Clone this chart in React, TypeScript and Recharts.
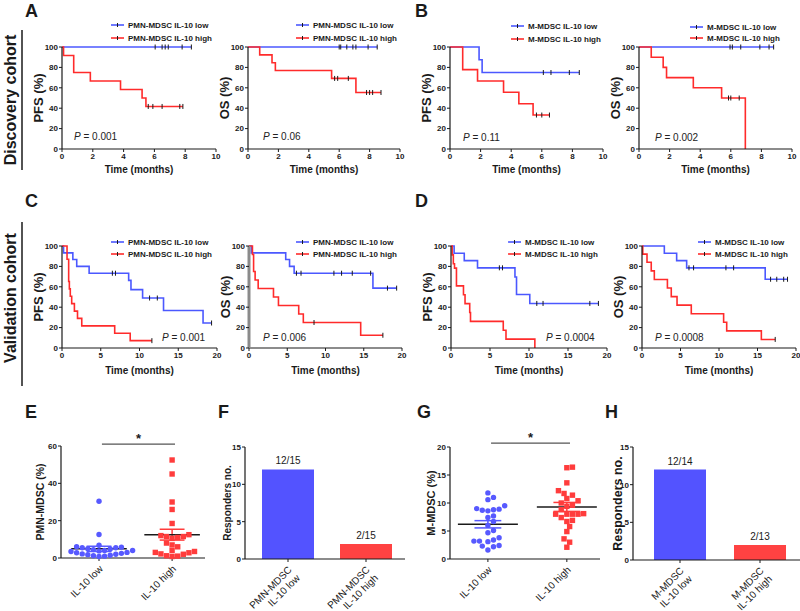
import React from 'react';
import {
  LineChart, Line, XAxis, YAxis, ScatterChart, Scatter, BarChart, Bar, Cell,
  LabelList, ReferenceLine,
} from 'recharts';

const FONT = '"Liberation Sans", Arial, Helvetica, sans-serif';
const INK = '#1a1a1a';
const BLUE = '#4b58ff';
const RED = '#ff2b2b';
const DOT_BLUE = '#5759ff';
const SQ_RED = '#ff3c3c';
const BAR_BLUE = '#5353ff';
const BAR_RED = '#ff4242';

// Kaplan-Meier curves: [months, survival %, censored 1 / event 0]
type KmRow = [number, number, number];

const aPfsLow: KmRow[] = [[0, 100, 0], [6.05, 100, 1], [6.5, 100, 1], [6.7, 100, 1], [6.9, 100, 1], [7.8, 100, 1], [8.4, 100, 1]];
const aPfsHigh: KmRow[] = [[0, 100, 0], [0.1, 91.7, 0], [0.76, 75, 0], [1.84, 66.7, 0], [3.8, 58.3, 0], [5.2, 50, 0], [5.45, 41.7, 0], [5.6, 41.7, 1], [5.9, 41.7, 1], [6.5, 41.7, 1], [7.65, 41.7, 1], [7.85, 41.7, 1]];
const aOsLow: KmRow[] = [[0, 100, 0], [6.0, 100, 1], [6.1, 100, 1], [6.5, 100, 1], [6.9, 100, 1], [7.1, 100, 1], [7.9, 100, 1], [8.5, 100, 1]];
const aOsHigh: KmRow[] = [[0, 100, 0], [0.77, 92.3, 0], [1.58, 84.6, 0], [1.8, 76.9, 0], [5.5, 69.2, 0], [5.7, 69.2, 1], [5.9, 69.2, 1], [6.6, 69.2, 1], [7.1, 55.4, 0], [7.8, 55.4, 1], [8.0, 55.4, 1], [8.2, 55.4, 1], [8.75, 55.4, 1]];

const bPfsLow: KmRow[] = [[0, 100, 0], [1.9, 87.5, 0], [2.1, 75, 0], [6.1, 75, 1], [6.6, 75, 1], [7.8, 75, 1], [8.45, 75, 1]];
const bPfsHigh: KmRow[] = [[0, 100, 0], [0.83, 77.8, 0], [1.8, 66.7, 0], [3.5, 55.6, 0], [4.5, 44.4, 0], [5.43, 33.3, 0], [5.65, 33.3, 1], [6.0, 33.3, 1], [6.5, 33.3, 1]];
const bOsLow: KmRow[] = [[0, 100, 0], [5.95, 100, 1], [6.1, 100, 1], [6.65, 100, 1], [7.9, 100, 1], [8.5, 100, 1], [8.8, 100, 1]];
const bOsHigh: KmRow[] = [[0, 100, 0], [0.8, 90, 0], [1.58, 80, 0], [1.8, 70, 0], [3.55, 60, 0], [5.4, 50, 0], [5.85, 50, 1], [6.0, 50, 1], [6.55, 50, 1], [6.95, 0, 0]];

const cPfsLow: KmRow[] = [[0, 100, 0], [0.2, 93.3, 0], [1.4, 86.7, 0], [1.9, 80, 0], [3.5, 73.3, 0], [6.5, 73.3, 1], [6.9, 73.3, 1], [8.6, 66.3, 0], [8.9, 57.2, 0], [10.4, 49, 0], [11.3, 49, 1], [12.3, 49, 1], [13.1, 36.8, 0], [18.2, 24.5, 0], [19.3, 24.5, 1]];
const cPfsHigh: KmRow[] = [[0, 100, 0], [0.65, 87, 0], [0.86, 65.2, 0], [0.95, 58, 0], [1.07, 50.7, 0], [1.25, 43.5, 0], [1.6, 36.2, 0], [2.0, 29, 0], [2.55, 21.7, 0], [6.8, 14.5, 0], [8.8, 7.2, 0], [11.6, 7.2, 1]];
const cOsLow: KmRow[] = [[0, 100, 0], [0.3, 93.3, 0], [4.8, 86.7, 0], [5.3, 80, 0], [5.9, 73.3, 0], [6.2, 73.3, 1], [6.8, 73.3, 1], [11.1, 73.3, 1], [12.1, 73.3, 1], [13.5, 73.3, 1], [15.9, 73.3, 1], [16.2, 58.7, 0], [18.1, 58.7, 1], [19.3, 58.7, 1]];
const cOsHigh: KmRow[] = [[0, 100, 0], [0.45, 91.7, 0], [0.6, 75, 0], [0.8, 66.7, 0], [1.2, 58.3, 0], [3.2, 50, 0], [3.85, 41.7, 0], [6.5, 33.3, 0], [7.1, 25, 0], [8.5, 25, 1], [14.6, 12.5, 0], [17.5, 12.5, 1]];

const dPfsLow: KmRow[] = [[0, 100, 0], [0.4, 92.9, 0], [1.7, 85.7, 0], [3.4, 78.6, 0], [6.2, 78.6, 1], [6.6, 78.6, 1], [8.2, 69.6, 0], [8.4, 52.4, 0], [10.1, 43.7, 0], [11.0, 43.7, 1], [11.8, 43.7, 1], [17.8, 43.7, 1], [18.9, 43.7, 1]];
const dPfsHigh: KmRow[] = [[0, 100, 0], [0.15, 91.3, 0], [0.3, 82.6, 0], [0.45, 78.3, 0], [0.7, 60.9, 0], [1.6, 52.2, 0], [1.8, 43.5, 0], [2.4, 34.8, 0], [2.5, 26.1, 0], [6.7, 17.4, 0], [7.05, 8.7, 0], [10.75, 0, 0]];
const dOsLow: KmRow[] = [[0, 100, 0], [2.9, 92.9, 0], [4.5, 85.7, 0], [5.8, 78.6, 0], [6.1, 78.6, 1], [6.7, 78.6, 1], [10.9, 78.6, 1], [11.9, 78.6, 1], [16.0, 67.4, 0], [16.7, 67.4, 1], [17.5, 67.4, 1], [18.4, 67.4, 1], [18.9, 67.4, 1]];
const dOsHigh: KmRow[] = [[0, 100, 0], [0.1, 92, 0], [0.65, 84, 0], [1.2, 75.6, 0], [1.6, 67.2, 0], [3.3, 58.8, 0], [3.8, 50.4, 0], [4.55, 42, 0], [6.4, 33.6, 0], [10.6, 25.2, 0], [11.0, 16.8, 0], [15.5, 8.4, 0], [17.3, 8.4, 1]];

const pValues = ['0.001', '0.06', '0.11', '0.002', '0.001', '0.006', '0.0004', '0.0008'];
const pmnNames = ['PMN-MDSC IL-10 low', 'PMN-MDSC IL-10 high'];
const mNames = ['M-MDSC IL-10 low', 'M-MDSC IL-10 high'];
const ticks10 = [0, 2, 4, 6, 8, 10];
const ticks20 = [0, 5, 10, 15, 20];
const pctTicks = [0, 20, 40, 60, 80, 100];

// E / G: individual values, mean and SEM
const groupNames = ['IL-10 low', 'IL-10 high'];
const eLow = [30.4, 12.6, 6.8, 6.0, 5.8, 5.5, 5.5, 5.0, 4.8, 4.5, 4.0, 4.0, 3.8, 3.5, 3.0, 2.8, 2.5, 2.2, 2.0, 1.8, 1.5, 1.2, 1.0, 0.8];
const eHigh = [52.5, 45.0, 30.0, 26.0, 18.5, 12.5, 12.0, 11.5, 11.5, 11.0, 10.5, 8.0, 7.0, 6.0, 4.0, 3.5, 3.0, 2.8, 2.2, 2.0, 1.2, 1.0, 0.8];
const eMean = [4.9, 12.5];
const eSem = [1.4, 2.9];
const gLow = [11.8, 11.0, 10.6, 9.5, 9.0, 8.9, 8.8, 8.7, 8.6, 7.7, 7.4, 6.7, 6.0, 5.1, 4.7, 3.8, 3.4, 3.2, 3.2, 3.1, 2.4, 2.3, 2.2, 1.6];
const gHigh = [16.4, 16.3, 13.6, 12.2, 11.7, 11.4, 10.8, 10.4, 10.0, 9.6, 9.4, 8.8, 8.1, 8.0, 8.0, 8.0, 8.0, 7.4, 6.9, 6.7, 5.8, 4.9, 3.6, 3.0, 2.1];
const gMean = [6.2, 9.3];
const gSem = [0.65, 0.8];

// F / H: responders
const fNames = ['PMN-MDSC\nIL-10 low', 'PMN-MDSC\nIL-10 high'];
const fCounts = [12, 2];
const fTexts = ['12/15', '2/15'];
const hNames = ['M-MDSC\nIL-10 low', 'M-MDSC\nIL-10 high'];
const hCounts = [12, 2];
const hTexts = ['12/14', '2/13'];

const tickStyle = { fontSize: 8, fontWeight: 700, fill: INK, fontFamily: FONT };
const axisLine = { stroke: INK, strokeWidth: 1.2 };

const toKm = (rows: KmRow[]) => rows.map(([t, s, c]) => ({ t, s, c }));

const censorDot = (p: any) => {
  const { cx, cy, payload, index } = p;
  if (!payload || !payload.c) return <g key={`n${index}`} />;
  return <line key={`c${index}`} x1={cx} x2={cx} y1={cy - 2.5} y2={cy + 2.5} stroke={INK} strokeWidth={1} />;
};

function KmPanel({ box, xMax, xTicks, yLabel, low, high, xh, grayAxis }: any) {
  const yw = 48, mt = 6, mr = 6;
  const w = box.x1 - box.x0 + yw + mr;
  const h = box.y1 - box.y0 + mt + xh;
  return (
    <div style={{ position: 'absolute', left: box.x0 - yw, top: box.y0 - mt }}>
      <LineChart width={w} height={h} margin={{ top: mt, right: mr, bottom: 0, left: 0 }}>
        <XAxis dataKey="t" type="number" domain={[0, xMax]} ticks={xTicks} height={xh} tickSize={3} tickMargin={1}
          stroke={INK} axisLine={axisLine} tick={tickStyle}
          label={{ value: 'Time (months)', position: 'center', fontSize: 10, fontWeight: 700, fill: INK, fontFamily: FONT }} />
        <YAxis type="number" domain={[0, 100]} ticks={pctTicks} width={yw} tickSize={3} tickMargin={1}
          stroke={INK} axisLine={grayAxis ? { stroke: '#8a8a8a', strokeWidth: 3 } : axisLine} tick={tickStyle}
          label={{ value: yLabel, angle: -90, position: 'center', fontSize: 13, fontWeight: 700, fill: INK, fontFamily: FONT }} />
        <Line data={toKm(low)} dataKey="s" type="stepAfter" stroke={BLUE} strokeWidth={1.6} dot={censorDot} activeDot={false} isAnimationActive={false} />
        <Line data={toKm(high)} dataKey="s" type="stepAfter" stroke={RED} strokeWidth={1.6} dot={censorDot} activeDot={false} isAnimationActive={false} />
      </LineChart>
    </div>
  );
}

// simple beeswarm: spread tied values sideways so markers do not overlap
function swarm(vals: number[], center: number, xPx: number, yPx: number, d: number) {
  const placed: { px: number; py: number }[] = [];
  return [...vals].sort((a, b) => a - b).map((v) => {
    const py = v * yPx;
    let best = 0;
    for (let k = 0; k < 80; k++) {
      const off = (k % 2 ? 1 : -1) * Math.ceil(k / 2) * (d / 2);
      if (placed.every((p) => (p.px - off) ** 2 + (p.py - py) ** 2 >= d * d)) { best = off; break; }
    }
    placed.push({ px: best, py });
    return { x: center + best / xPx, y: v };
  });
}

const rotTick = (names: string[], size: number, dx: number, dyPx: number) => (p: any) => {
  const raw = typeof p.payload.value === 'number' ? names[p.payload.value] : p.payload.value;
  const lines = String(raw).split('\n');
  return (
    <g transform={`translate(${p.x + dx},${p.y + dyPx})`}>
      <text transform="rotate(-45)" textAnchor="end" fontFamily={FONT} fontSize={size} fill={INK}>
        {lines.map((l, i) => <tspan key={i} x={0} dy={i === 0 ? '0.35em' : '1.15em'}>{l}</tspan>)}
      </text>
    </g>
  );
};

function DotPanel({ box, yMax, yTicks, yLabel, yw, labelSize, lowVals, highVals, mean, sem, xDomain, bracket }: any) {
  const mt = 26, mr = 4, xh = 55;
  const w = box.x1 - box.x0 + yw + mr;
  const h = box.y1 - box.y0 + mt + xh;
  const xPx = (box.x1 - box.x0) / (xDomain[1] - xDomain[0]);
  const yPx = (box.y1 - box.y0) / yMax;
  const lowPts = swarm(lowVals, 0, xPx, yPx, 5.6);
  const highPts = swarm(highVals, 1, xPx, yPx, 5.6);
  const bars: any[] = [];
  [0, 1].forEach((i) => {
    const col = i === 0 ? DOT_BLUE : SQ_RED;
    const m = mean[i], s = sem[i];
    bars.push(<ReferenceLine key={`v${i}`} segment={[{ x: i, y: m - s }, { x: i, y: m + s }]} stroke={col} strokeWidth={1.5} ifOverflow="visible" />);
    bars.push(<ReferenceLine key={`u${i}`} segment={[{ x: i - 0.17, y: m + s }, { x: i + 0.17, y: m + s }]} stroke={col} strokeWidth={1.5} ifOverflow="visible" />);
    bars.push(<ReferenceLine key={`l${i}`} segment={[{ x: i - 0.17, y: m - s }, { x: i + 0.17, y: m - s }]} stroke={col} strokeWidth={1.5} ifOverflow="visible" />);
    bars.push(<ReferenceLine key={`m${i}`} segment={[{ x: i - 0.38, y: m }, { x: i + 0.38, y: m }]} stroke={INK} strokeWidth={1.5} ifOverflow="visible" />);
  });
  return (
    <div style={{ position: 'absolute', left: box.x0 - yw, top: box.y0 - mt }}>
      <ScatterChart width={w} height={h} margin={{ top: mt, right: mr, bottom: 0, left: 0 }}>
        <XAxis dataKey="x" type="number" domain={xDomain} ticks={[0, 1]} height={xh} tickSize={3} tickMargin={2}
          stroke={INK} axisLine={axisLine} allowDataOverflow tick={rotTick(groupNames, 10, 2, 4)} />
        <YAxis dataKey="y" type="number" domain={[0, yMax]} ticks={yTicks} width={yw} tickSize={3} tickMargin={1}
          stroke={INK} axisLine={axisLine} tick={tickStyle}
          label={{ value: yLabel, angle: -90, position: 'center', fontSize: labelSize, fontWeight: 700, fill: INK, fontFamily: FONT }} />
        <Scatter data={lowPts} isAnimationActive={false}
          shape={(p: any) => <circle cx={p.cx} cy={p.cy} r={2.7} fill={DOT_BLUE} />} />
        <Scatter data={highPts} isAnimationActive={false}
          shape={(p: any) => <rect x={p.cx - 2.7} y={p.cy - 2.7} width={5.4} height={5.4} fill={SQ_RED} />} />
        {bars}
        <ReferenceLine segment={[{ x: 0.04, y: bracket }, { x: 1.04, y: bracket }]} stroke="#555" strokeWidth={1.2} ifOverflow="visible"
          label={{ value: '*', position: 'top', offset: 1, fontSize: 13, fontWeight: 700, fill: INK, fontFamily: FONT }} />
      </ScatterChart>
    </div>
  );
}

function BarPanel({ box, names, counts, texts, yw, labelSize, padLeft }: any) {
  const mt = 8, mr = 0, xh = 60;
  const w = box.x1 - box.x0 + yw + mr;
  const h = box.y1 - box.y0 + mt + xh;
  const data = names.map((n: string, i: number) => ({ name: n, v: counts[i], txt: texts[i] }));
  return (
    <div style={{ position: 'absolute', left: box.x0 - yw, top: box.y0 - mt }}>
      <BarChart width={w} height={h} data={data} margin={{ top: mt, right: mr, bottom: 0, left: 0 }}>
        <XAxis dataKey="name" height={xh} tickSize={3} tickMargin={2} interval={0} padding={{ left: padLeft, right: 0 }}
          stroke={INK} axisLine={axisLine} tick={rotTick(names, 10, 2, 4)} />
        <YAxis type="number" domain={[0, 15]} ticks={[0, 5, 10, 15]} width={yw} tickSize={3} tickMargin={1}
          stroke={INK} axisLine={axisLine} tick={tickStyle}
          label={{ value: 'Responders no.', angle: -90, position: 'center', fontSize: labelSize, fontWeight: 700, fill: INK, fontFamily: FONT }} />
        <Bar dataKey="v" barSize={52} isAnimationActive={false}>
          {data.map((_: any, i: number) => <Cell key={i} fill={i === 0 ? BAR_BLUE : BAR_RED} />)}
          <LabelList dataKey="txt" position="top" offset={5} fontSize={10} fill={INK} fontFamily={FONT} />
        </Bar>
      </BarChart>
    </div>
  );
}

const kmPanels = [
  { box: { x0: 62, x1: 216, y0: 47, y1: 149 }, xMax: 10, xTicks: ticks10, yLabel: 'PFS (%)', low: aPfsLow, high: aPfsHigh, xh: 40, names: pmnNames, leg: [111, 25, 38], p: [74, 136] },
  { box: { x0: 248, x1: 400, y0: 47, y1: 149 }, xMax: 10, xTicks: ticks10, yLabel: 'OS (%)', low: aOsLow, high: aOsHigh, xh: 40, names: pmnNames, leg: [296, 25, 38], p: [263, 136] },
  { box: { x0: 450, x1: 603, y0: 47, y1: 149 }, xMax: 10, xTicks: ticks10, yLabel: 'PFS (%)', low: bPfsLow, high: bPfsHigh, xh: 40, names: mNames, leg: [511, 26, 39], p: [463, 137] },
  { box: { x0: 639, x1: 792, y0: 47, y1: 149 }, xMax: 10, xTicks: ticks10, yLabel: 'OS (%)', low: bOsLow, high: bOsHigh, xh: 40, names: mNames, leg: [690, 27, 38], p: [655, 137] },
  { box: { x0: 62, x1: 217, y0: 246, y1: 348 }, xMax: 20, xTicks: ticks20, yLabel: 'PFS (%)', low: cPfsLow, high: cPfsHigh, xh: 44, names: pmnNames, leg: [111, 242, 254], p: [162, 337] },
  { box: { x0: 249, x1: 402, y0: 246, y1: 348 }, xMax: 20, xTicks: ticks20, yLabel: 'OS (%)', low: cOsLow, high: cOsHigh, xh: 44, names: pmnNames, leg: [296, 242, 254], p: [263, 337], grayAxis: true },
  { box: { x0: 451, x1: 607, y0: 246, y1: 348 }, xMax: 20, xTicks: ticks20, yLabel: 'PFS (%)', low: dPfsLow, high: dPfsHigh, xh: 44, names: mNames, leg: [508, 242, 254], p: [546, 337] },
  { box: { x0: 642, x1: 796, y0: 246, y1: 348 }, xMax: 20, xTicks: ticks20, yLabel: 'OS (%)', low: dOsLow, high: dOsHigh, xh: 44, names: mNames, leg: [698, 242, 254], p: [655, 337] },
];

const panelLetters: [string, number, number][] = [
  ['A', 25, 17], ['B', 415, 17], ['C', 25, 207], ['D', 415, 207],
  ['E', 25, 418], ['F', 218, 418], ['G', 417, 418], ['H', 605, 418],
];

function Overlay() {
  return (
    <svg width={800} height={611} style={{ position: 'absolute', left: 0, top: 0, pointerEvents: 'none' }} fontFamily={FONT}>
      {panelLetters.map(([l, x, y]) => (
        <text key={l} x={x} y={y} fontSize={18} fontWeight={700} fill={INK}>{l}</text>
      ))}
      <text x={10} y={100} transform="rotate(-90 10 100)" textAnchor="middle" dominantBaseline="central" fontSize={16} fontWeight={700} fill={INK}>Discovery cohort</text>
      <line x1={22} x2={22} y1={30} y2={170} stroke={INK} strokeWidth={1.5} />
      <text x={10} y={298} transform="rotate(-90 10 298)" textAnchor="middle" dominantBaseline="central" fontSize={16} fontWeight={700} fill={INK}>Validation cohort</text>
      <line x1={22} x2={22} y1={222} y2={386} stroke={INK} strokeWidth={1.5} />
      {kmPanels.map((k, i) => (
        <g key={i}>
          {[0, 1].map((j) => {
            const lx = k.leg[0], ly = k.leg[j + 1];
            return (
              <g key={j}>
                <line x1={lx} x2={lx + 13} y1={ly} y2={ly} stroke={j === 0 ? BLUE : RED} strokeWidth={1.6} />
                <line x1={lx + 6.5} x2={lx + 6.5} y1={ly - 2} y2={ly + 2} stroke={INK} strokeWidth={1} />
                <text x={lx + 17} y={ly} dominantBaseline="central" fontSize={8} fontWeight={700} fill={INK}>{k.names[j]}</text>
              </g>
            );
          })}
          <text x={k.p[0]} y={k.p[1]} dominantBaseline="central" fontSize={10} fill="#222">
            <tspan fontStyle="italic">P</tspan> = {pValues[i]}
          </text>
        </g>
      ))}
    </svg>
  );
}

export default function App() {
  return (
    <div style={{ position: 'relative', width: 800, height: 611, background: '#fff', overflow: 'hidden', fontFamily: FONT }}>
      <style>{'body{margin:0}'}</style>
      {kmPanels.map((k, i) => (
        <KmPanel key={i} box={k.box} xMax={k.xMax} xTicks={k.xTicks} yLabel={k.yLabel} low={k.low} high={k.high} xh={k.xh} grayAxis={k.grayAxis} />
      ))}
      <DotPanel box={{ x0: 61, x1: 205, y0: 446, y1: 558 }} yMax={60} yTicks={[0, 20, 40, 60]} yLabel="PMN-MDSC (%)" yw={42} labelSize={10.5}
        lowVals={eLow} highVals={eHigh} mean={eMean} sem={eSem} xDomain={[-0.52, 1.45]} bracket={61} />
      <BarPanel box={{ x0: 245, x1: 405, y0: 447, y1: 559 }} names={fNames} counts={fCounts} texts={fTexts} yw={36} labelSize={10} padLeft={4} />
      <DotPanel box={{ x0: 450, x1: 600, y0: 447, y1: 559 }} yMax={20} yTicks={[0, 5, 10, 15, 20]} yLabel="M-MDSC (%)" yw={38} labelSize={11}
        lowVals={gLow} highVals={gHigh} mean={gMean} sem={gSem} xDomain={[-0.48, 1.42]} bracket={20.7} />
      <BarPanel box={{ x0: 633, x1: 800, y0: 447, y1: 560 }} names={hNames} counts={hCounts} texts={hTexts} yw={30} labelSize={12.5} padLeft={7} />
      <Overlay />
    </div>
  );
}
